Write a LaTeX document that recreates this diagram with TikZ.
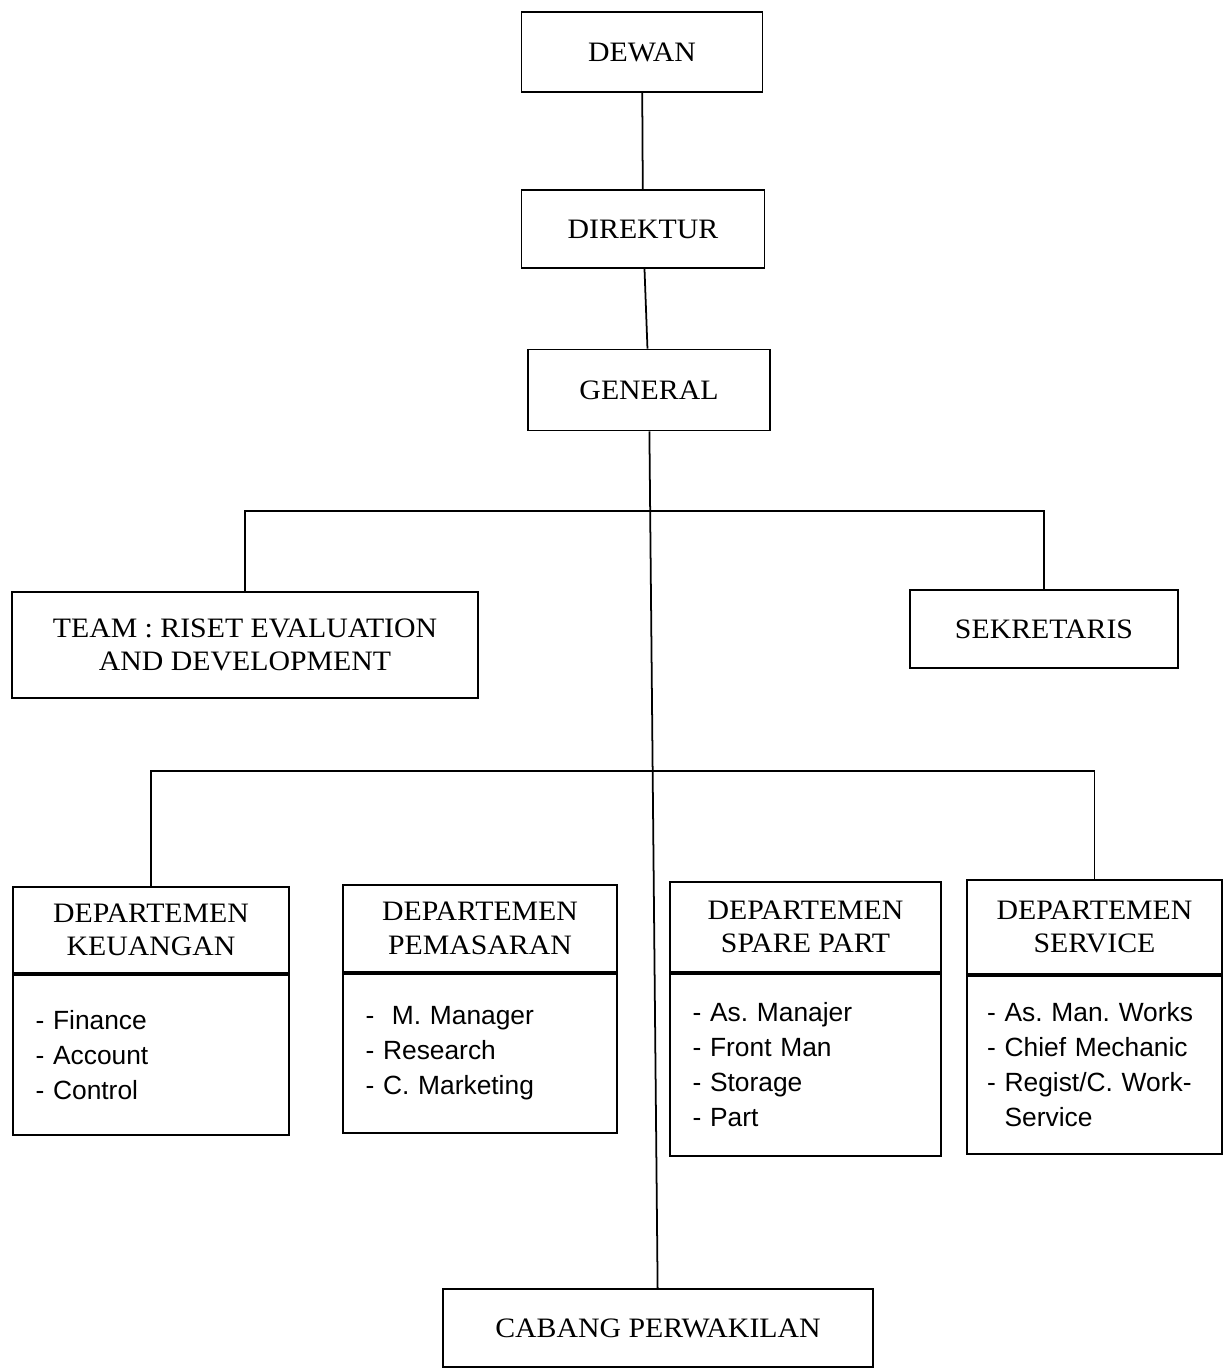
\documentclass[tikz,border=0pt]{standalone}
\usepackage{fontspec}
\setmainfont{Liberation Serif}[FakeStretch=1.06]
\newfontfamily\listfont{Liberation Sans}
\usepackage{tikz}
\usetikzlibrary{positioning, calc}
\frenchspacing

\begin{document}
\begin{tikzpicture}[x=0.02cm, y=-0.02cm, line width=1pt,
  box/.style={draw, line width=1pt, align=center, inner sep=0pt, font=\fontsize{16}{19}\selectfont},
  head/.style={box},
  list/.style={draw, line width=1pt, align=left, inner xsep=0.45cm, inner ysep=0pt, font=\listfont\fontsize{15}{20}\selectfont}]

\useasboundingbox (0,0) rectangle (1224,1368);

% Top of the chart
\node[box, minimum width=4.82cm, minimum height=1.6cm] (dewan) at (642, 52) {DEWAN};
\node[box, minimum width=4.86cm, minimum height=1.56cm] (direktur) at (643, 229) {DIREKTUR};
\node[box, minimum width=4.84cm, minimum height=1.62cm] (general) at (649, 390) {GENERAL};

% Staff
\node[box, minimum width=9.32cm, minimum height=2.12cm] (team) at (245, 645) {TEAM : RISET EVALUATION\\ AND DEVELOPMENT};
\node[box, minimum width=5.36cm, minimum height=1.56cm] (sekretaris) at (1044, 629) {SEKRETARIS};

% Departments
\node[head, minimum width=5.52cm, minimum height=1.72cm] (keuH) at (151, 930) {DEPARTEMEN\\ KEUANGAN};
\node[list, text width=4.62cm, minimum height=3.2cm, below=0pt of keuH] (keu) {- Finance\\ - Account\\ - Control};

\node[head, minimum width=5.48cm, minimum height=1.74cm] (pemH) at (480, 928.5) {DEPARTEMEN\\ PEMASARAN};
\node[list, text width=4.58cm, minimum height=3.18cm, below=0pt of pemH] (pem) {-\ \ M. Manager\\ - Research\\ - C. Marketing};

\node[head, minimum width=5.42cm, minimum height=1.8cm] (spaH) at (805.5, 927) {DEPARTEMEN\\ SPARE PART};
\node[list, text width=4.52cm, minimum height=3.64cm, below=0pt of spaH] (spa) {- As. Manajer\\ - Front Man\\ - Storage\\ - Part};

\node[head, minimum width=5.1cm, minimum height=1.88cm] (svcH) at (1094.5, 927) {DEPARTEMEN\\ SERVICE};
\node[list, inner xsep=0.4cm, text width=4.3cm, minimum height=3.56cm, below=0pt of svcH] (svc) {- As. Man. Works\\ - Chief Mechanic\\ - Regist/C. Work-\\ \phantom{- }Service};

% Branch
\node[box, minimum width=8.6cm, minimum height=1.56cm] (cabang) at (658, 1328) {CABANG PERWAKILAN};

% Lines
\coordinate (bar1) at (650, 511);
\coordinate (bar2) at (655, 771);
\draw (dewan) -- (direktur);
\draw (direktur) -- (general);
\draw (general) -- (cabang);
\draw (team.north) |- (bar1) -| (sekretaris.north);
\draw (keuH.north) |- (bar2) -| (svcH.north);
\end{tikzpicture}
\end{document}
